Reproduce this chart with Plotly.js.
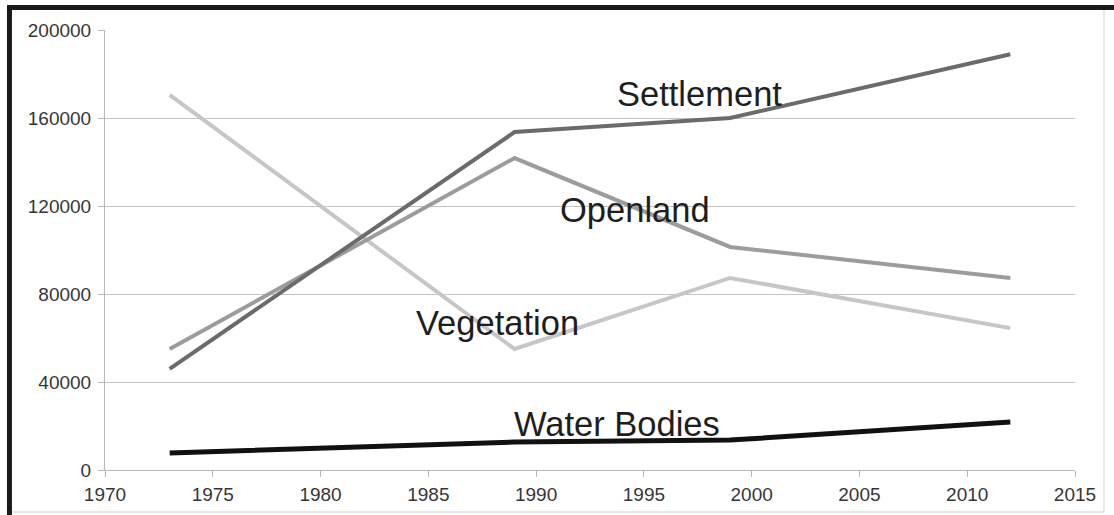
<!DOCTYPE html>
<html>
<head>
<meta charset="utf-8">
<script src="https://cdn.plot.ly/plotly-3.0.1.min.js"></script>
<style>
html,body{margin:0;padding:0;background:#fff;}
#chart{width:1114px;height:515px;}
</style>
</head>
<body>
<div id="chart"></div>
<script>
const years = [1973, 1989, 1999, 2012];
const settlement = [46000, 153600, 160000, 189000];
const openland = [55000, 141800, 101400, 87300];
const vegetation = [170500, 55000, 87300, 64500];
const waterBodies = [7700, 12700, 13600, 21800];

const seriesNames = ["Vegetation", "Openland", "Settlement", "Water Bodies"];
const xTicks = [1970, 1975, 1980, 1985, 1990, 1995, 2000, 2005, 2010, 2015];
const yTicks = [0, 40000, 80000, 120000, 160000, 200000];

const traces = [
  {x: years, y: vegetation, name: seriesNames[0], mode: 'lines', line: {color: '#c6c6c6', width: 4}},
  {x: years, y: openland, name: seriesNames[1], mode: 'lines', line: {color: '#9c9c9c', width: 4}},
  {x: years, y: settlement, name: seriesNames[2], mode: 'lines', line: {color: '#6b6b6b', width: 4}},
  {x: years, y: waterBodies, name: seriesNames[3], mode: 'lines', line: {color: '#111111', width: 5}}
];

const labelFont = {family: 'Liberation Sans, Arial, sans-serif', size: 34.5, color: '#1e1e1e'};

const layout = {
  width: 1114, height: 515,
  margin: {l: 105, r: 39, t: 30, b: 45, pad: 0},
  paper_bgcolor: '#ffffff',
  plot_bgcolor: '#ffffff',
  showlegend: false,
  font: {family: 'Liberation Sans, Arial, sans-serif', size: 19, color: '#363636'},
  xaxis: {
    range: [1970, 2015], tickvals: xTicks, ticktext: xTicks.map(String),
    showgrid: false, zeroline: false, showline: true, linecolor: '#b8b8b8', linewidth: 1,
    ticks: 'outside', ticklen: 6, tickcolor: '#b8b8b8', tickwidth: 1,
    ticklabelstandoff: 1, fixedrange: true
  },
  yaxis: {
    range: [0, 200000], tickvals: yTicks, ticktext: yTicks.map(String),
    showgrid: true, gridcolor: '#c4c4c4', gridwidth: 1, zeroline: false,
    showline: true, linecolor: '#b8b8b8', linewidth: 1,
    ticks: 'outside', ticklen: 6, tickcolor: '#b8b8b8', tickwidth: 1,
    ticklabelstandoff: 3, fixedrange: true
  },
  annotations: [
    {x: 1997.6, y: 171100, xref: 'x', yref: 'y', text: seriesNames[2], showarrow: false, font: labelFont, xanchor: 'center', yanchor: 'middle'},
    {x: 1994.6, y: 118200, xref: 'x', yref: 'y', text: seriesNames[1], showarrow: false, font: labelFont, xanchor: 'center', yanchor: 'middle'},
    {x: 1988.2, y: 66600, xref: 'x', yref: 'y', text: seriesNames[0], showarrow: false, font: labelFont, xanchor: 'center', yanchor: 'middle'},
    {x: 1993.75, y: 21100, xref: 'x', yref: 'y', text: seriesNames[3], showarrow: false, font: labelFont, xanchor: 'center', yanchor: 'middle'}
  ],
  shapes: [
    {type: 'line', xref: 'paper', yref: 'paper', x0: -0.0985, x1: -0.0985, y0: 1.0511, y1: -0.11, line: {color: '#1a1a1a', width: 5}},
    {type: 'line', xref: 'paper', yref: 'paper', x0: -0.101, x1: 1.08, y0: 1.0511, y1: 1.0511, line: {color: '#1a1a1a', width: 5}},
    {type: 'line', xref: 'paper', yref: 'paper', x0: 1.0299, x1: 1.0299, y0: 1.045, y1: -0.0955, line: {color: '#d0d0d0', width: 1}},
    {type: 'line', xref: 'paper', yref: 'paper', x0: -0.096, x1: 1.0299, y0: -0.0955, y1: -0.0955, line: {color: '#d0d0d0', width: 1}}
  ]
};

Plotly.newPlot('chart', traces, layout, {displayModeBar: false, staticPlot: true});
</script>
</body>
</html>
